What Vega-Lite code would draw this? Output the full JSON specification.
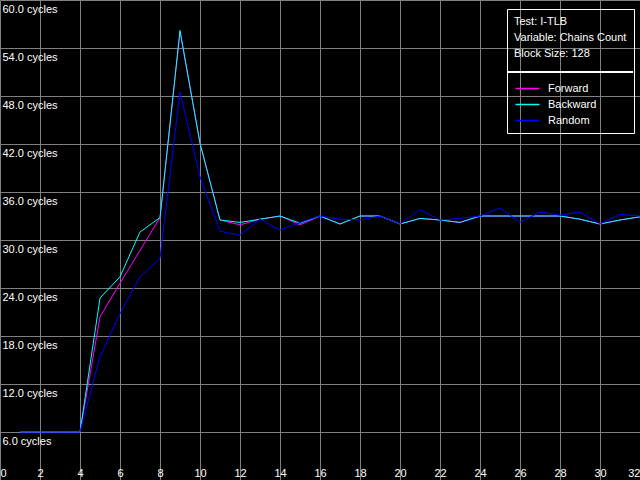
{
  "$schema": "https://vega.github.io/schema/vega-lite/v6.json",
  "width": 640,
  "height": 480,
  "autosize": {"type": "none"},
  "padding": 0,
  "background": "black",
  "config": {
    "view": {"stroke": null},
    "font": "Liberation Sans",
    "axis": {
      "gridColor": "#808080",
      "gridOpacity": 1,
      "gridWidth": 1,
      "domain": false,
      "ticks": false,
      "tickSize": 0,
      "labelColor": "white",
      "labelFont": "Liberation Sans",
      "labelFontSize": 11,
      "labelOverlap": false,
      "title": null
    }
  },
  "data": {
    "values": [
      {"x": 1, "series": "Forward", "v": 6}, {"x": 2, "series": "Forward", "v": 6}, {"x": 3, "series": "Forward", "v": 6}, {"x": 4, "series": "Forward", "v": 6},
      {"x": 5, "series": "Forward", "v": 20.4}, {"x": 6, "series": "Forward", "v": 24.6}, {"x": 7, "series": "Forward", "v": 28.7}, {"x": 8, "series": "Forward", "v": 32.8},
      {"x": 9, "series": "Forward", "v": 56.0}, {"x": 10, "series": "Forward", "v": 42.1}, {"x": 11, "series": "Forward", "v": 32.5}, {"x": 12, "series": "Forward", "v": 31.9},
      {"x": 13, "series": "Forward", "v": 32.6}, {"x": 14, "series": "Forward", "v": 33.0}, {"x": 15, "series": "Forward", "v": 31.9}, {"x": 16, "series": "Forward", "v": 33.0},
      {"x": 17, "series": "Forward", "v": 32.0}, {"x": 18, "series": "Forward", "v": 33.0}, {"x": 19, "series": "Forward", "v": 33.0}, {"x": 20, "series": "Forward", "v": 32.0},
      {"x": 21, "series": "Forward", "v": 32.7}, {"x": 22, "series": "Forward", "v": 32.5}, {"x": 23, "series": "Forward", "v": 32.2}, {"x": 24, "series": "Forward", "v": 33.0},
      {"x": 25, "series": "Forward", "v": 33.0}, {"x": 26, "series": "Forward", "v": 33.0}, {"x": 27, "series": "Forward", "v": 33.0}, {"x": 28, "series": "Forward", "v": 33.0},
      {"x": 29, "series": "Forward", "v": 32.6}, {"x": 30, "series": "Forward", "v": 32.0}, {"x": 31, "series": "Forward", "v": 32.5}, {"x": 32, "series": "Forward", "v": 32.9},

      {"x": 1, "series": "Backward", "v": 6}, {"x": 2, "series": "Backward", "v": 6}, {"x": 3, "series": "Backward", "v": 6}, {"x": 4, "series": "Backward", "v": 6},
      {"x": 5, "series": "Backward", "v": 22.75}, {"x": 6, "series": "Backward", "v": 25.4}, {"x": 7, "series": "Backward", "v": 31.0}, {"x": 8, "series": "Backward", "v": 32.8},
      {"x": 9, "series": "Backward", "v": 56.2}, {"x": 10, "series": "Backward", "v": 42.1}, {"x": 11, "series": "Backward", "v": 32.5}, {"x": 12, "series": "Backward", "v": 32.2},
      {"x": 13, "series": "Backward", "v": 32.6}, {"x": 14, "series": "Backward", "v": 33.0}, {"x": 15, "series": "Backward", "v": 32.1}, {"x": 16, "series": "Backward", "v": 33.0},
      {"x": 17, "series": "Backward", "v": 32.0}, {"x": 18, "series": "Backward", "v": 33.0}, {"x": 19, "series": "Backward", "v": 33.0}, {"x": 20, "series": "Backward", "v": 32.0},
      {"x": 21, "series": "Backward", "v": 32.7}, {"x": 22, "series": "Backward", "v": 32.5}, {"x": 23, "series": "Backward", "v": 32.2}, {"x": 24, "series": "Backward", "v": 33.0},
      {"x": 25, "series": "Backward", "v": 33.0}, {"x": 26, "series": "Backward", "v": 33.0}, {"x": 27, "series": "Backward", "v": 33.0}, {"x": 28, "series": "Backward", "v": 33.0},
      {"x": 29, "series": "Backward", "v": 32.6}, {"x": 30, "series": "Backward", "v": 32.0}, {"x": 31, "series": "Backward", "v": 32.5}, {"x": 32, "series": "Backward", "v": 32.9},

      {"x": 1, "series": "Random", "v": 6}, {"x": 2, "series": "Random", "v": 6}, {"x": 3, "series": "Random", "v": 6}, {"x": 4, "series": "Random", "v": 6},
      {"x": 5, "series": "Random", "v": 15.4}, {"x": 6, "series": "Random", "v": 20.8}, {"x": 7, "series": "Random", "v": 25.4}, {"x": 8, "series": "Random", "v": 27.7},
      {"x": 9, "series": "Random", "v": 48.5}, {"x": 10, "series": "Random", "v": 37.9}, {"x": 11, "series": "Random", "v": 31.1}, {"x": 12, "series": "Random", "v": 30.6},
      {"x": 13, "series": "Random", "v": 32.6}, {"x": 14, "series": "Random", "v": 31.25}, {"x": 15, "series": "Random", "v": 32.2}, {"x": 16, "series": "Random", "v": 33.0},
      {"x": 17, "series": "Random", "v": 32.6}, {"x": 18, "series": "Random", "v": 32.5}, {"x": 19, "series": "Random", "v": 33.0}, {"x": 20, "series": "Random", "v": 32.0},
      {"x": 21, "series": "Random", "v": 33.8}, {"x": 22, "series": "Random", "v": 32.5}, {"x": 23, "series": "Random", "v": 32.7}, {"x": 24, "series": "Random", "v": 33.0},
      {"x": 25, "series": "Random", "v": 34.0}, {"x": 26, "series": "Random", "v": 32.2}, {"x": 27, "series": "Random", "v": 33.5}, {"x": 28, "series": "Random", "v": 33.1},
      {"x": 29, "series": "Random", "v": 33.5}, {"x": 30, "series": "Random", "v": 32.0}, {"x": 31, "series": "Random", "v": 33.2}, {"x": 32, "series": "Random", "v": 33.0}
    ]
  },
  "layer": [
    {
      "mark": {"type": "line", "strokeWidth": 1, "interpolate": "linear"},
      "encoding": {
        "x": {
          "field": "x", "type": "quantitative",
          "scale": {"domain": [0, 32], "nice": false},
          "axis": {
            "values": [0, 2, 4, 6, 8, 10, 12, 14, 16, 18, 20, 22, 24, 26, 28, 30, 32],
            "labelFlush": true,
            "labelBaseline": "bottom",
            "labelPadding": -2,
            "format": "d"
          }
        },
        "y": {
          "field": "v", "type": "quantitative",
          "scale": {"domain": [0, 60], "nice": false, "zero": true},
          "axis": {
            "values": [6, 12, 18, 24, 30, 36, 42, 48, 54, 60],
            "labelAlign": "left",
            "labelBaseline": "top",
            "labelPadding": -2,
            "labelOffset": 3,
            "labelExpr": "format(datum.value, '.1f') + ' cycles'"
          }
        },
        "color": {
          "field": "series", "type": "nominal",
          "scale": {"domain": ["Forward", "Backward", "Random"], "range": ["#FF00FF", "#00FFFF", "#0000FF"]},
          "legend": {
            "orient": "none",
            "legendX": 507,
            "legendY": 9,
            "title": ["Test: I-TLB", "Variable: Chains Count", "Block Size: 128"],
            "titleColor": "white",
            "titleFont": "Liberation Sans",
            "titleFontSize": 11,
            "titleFontWeight": "normal",
            "titleLineHeight": 16,
            "titleBaseline": "top",
            "titleAnchor": "start",
            "titlePadding": 24,
            "strokeColor": "white",
            "padding": 7,
            "rowPadding": 4,
            "symbolType": "M-1,0H5",
            "symbolSize": 64,
            "symbolStrokeWidth": 1.5,
            "symbolOpacity": 1,
            "labelColor": "white",
            "labelFont": "Liberation Sans",
            "labelFontSize": 11,
            "labelOffset": 23
          }
        },
        "order": {"field": "x", "type": "quantitative"}
      }
    },
    {
      "mark": {"type": "rule", "stroke": "white", "strokeWidth": 1},
      "encoding": {
        "x": {
          "datum": 25.35,
          "type": "quantitative",
          "axis": {
            "values": [0, 2, 4, 6, 8, 10, 12, 14, 16, 18, 20, 22, 24, 26, 28, 30, 32],
            "labelFlush": true,
            "labelBaseline": "bottom",
            "labelPadding": -2,
            "format": "d"
          }
        },
        "x2": {"datum": 31.65},
        "y": {
          "datum": 51,
          "type": "quantitative",
          "axis": {
            "values": [6, 12, 18, 24, 30, 36, 42, 48, 54, 60],
            "labelAlign": "left",
            "labelBaseline": "top",
            "labelPadding": -2,
            "labelOffset": 3,
            "labelExpr": "format(datum.value, '.1f') + ' cycles'"
          }
        }
      }
    }
  ]
}
